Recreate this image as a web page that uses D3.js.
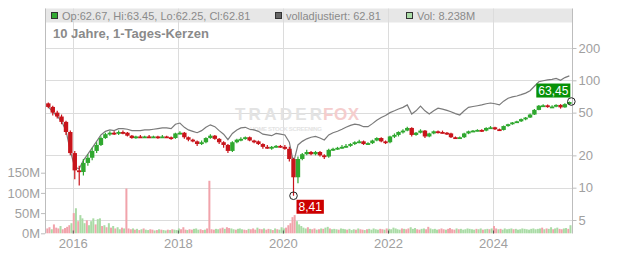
<!DOCTYPE html>
<html>
<head>
<meta charset="utf-8">
<script src="https://cdn.jsdelivr.net/npm/d3@7"></script>
<style>
  body { margin: 0; background: #fff; }
  svg text { font-family: "Liberation Sans", Arial, sans-serif; }
</style>
</head>
<body>
<div id="chart"></div>
<script>
// monthly candles, Jul 2015 .. Jun 2025
var opens = [
  61, 56.5, 50, 46, 41, 33,
  21, 14.5, 14, 17, 19, 22, 25, 29, 31.5, 32.5, 32, 33,
  32.5, 30.5, 29, 30, 29.5, 30, 29.5, 30, 29.5, 30, 29.5, 29,
  32, 32.5, 29.5, 28, 27, 25.5, 26.5, 29, 30.5, 28.5, 26.5, 25,
  22, 26.5, 28, 28.5, 29.5, 27.5, 27, 25.5, 24, 23.5, 24, 24.5,
  24, 23, 18.5, 12.5, 18.5, 20.5, 21.5, 20.5, 21.5, 20, 19.5, 22.5,
  23, 23.5, 24, 24.5, 25.5, 26.5, 27, 25.5, 26, 27.5, 29, 27,
  26.5, 30, 31, 33, 34, 36, 31, 32.5, 34, 30, 32, 33.5,
  33, 32.5, 32, 29.5, 29, 29.5, 32, 33.5, 34, 34.5, 34, 36,
  36.5, 35, 34.5, 37.5, 39, 40.5, 41.5, 43.5, 45, 48, 53, 58,
  58.5, 56.5, 57, 59, 56, 60
];
var highs = [
  62, 58, 52, 48, 42, 34,
  22, 16, 18.5, 20.5, 23.5, 26.5, 30, 32.5, 33.5, 33.5, 34, 34,
  33, 31, 30.5, 31, 30.5, 31, 30.5, 30.5, 31, 30.5, 30, 32.5,
  33.5, 33, 30, 28.5, 27.5, 27.5, 29.5, 31.5, 31, 29, 27, 25.5,
  27, 28.5, 29.5, 30, 30, 28, 27.5, 26, 25, 24.5, 25, 25,
  25, 24, 19, 19.5, 21, 22.5, 22, 22, 22, 20.5, 23, 23.5,
  24, 25, 25.5, 26, 27, 28, 27.5, 26.5, 28, 29.5, 29.5, 27.5,
  30.5, 32, 33.5, 35, 37, 36.5, 33, 35, 34.5, 32.5, 34, 34,
  34, 33, 32.5, 30, 30, 32.5, 34, 34.5, 35, 35, 36.5, 37.5,
  37, 35.5, 38, 39.5, 41, 42, 44, 45.5, 49, 54, 59, 60,
  59.5, 58.5, 60, 60, 61, 63.45
];
var lows = [
  55, 47, 44, 39, 31, 20,
  12, 10.5, 13, 16, 18, 21, 24.5, 28.5, 30.5, 31, 31, 31.5,
  30, 28.5, 28.5, 29, 29, 29, 29, 28.5, 29, 29, 28, 28.5,
  31.5, 28.5, 27, 26.5, 24.5, 25, 26, 28.5, 28, 25.5, 23.5, 21,
  21.5, 26, 27, 28, 27, 26, 25, 23, 23, 22.5, 23.5, 23.5,
  22.5, 17.5, 8.41, 11, 18, 20, 20, 20, 19.5, 18.5, 19, 22,
  22.5, 23, 23.5, 24, 25, 26, 25, 25, 25.5, 27, 26.5, 25.5,
  26, 29, 30, 32, 33.5, 30, 30.5, 32, 29, 29.5, 31.5, 32,
  32, 31, 29, 28.5, 28.5, 29, 31.5, 33, 33.5, 33, 33.5, 35.5,
  34.5, 34, 34, 37, 38.5, 40, 41, 42.5, 44.5, 47.5, 52.5, 56.5,
  55.5, 55.5, 56, 54.5, 55.5, 59.5
];
var closes = [
  56.5, 50, 46, 41, 33, 21,
  14.5, 14, 17, 19, 22, 25, 29, 31.5, 32.5, 32, 33, 32.5,
  30.5, 29, 30, 29.5, 30, 29.5, 30, 29.5, 30, 29.5, 29, 32,
  32.5, 29.5, 28, 27, 25.5, 26.5, 29, 30.5, 28.5, 26.5, 25, 22,
  26.5, 28, 28.5, 29.5, 27.5, 27, 25.5, 24, 23.5, 24, 24.5, 24,
  23, 18.5, 12.5, 18.5, 20.5, 21.5, 20.5, 21.5, 20, 19.5, 22.5, 23,
  23.5, 24, 24.5, 25.5, 26.5, 27, 25.5, 26, 27.5, 29, 27, 26.5,
  30, 31, 33, 34, 36, 31, 32.5, 34, 30, 32, 33.5, 33,
  32.5, 32, 29.5, 29, 29.5, 32, 33.5, 34, 34.5, 34, 36, 36.5,
  35, 34.5, 37.5, 39, 40.5, 41.5, 43.5, 45, 48, 53, 58, 58.5,
  56.5, 57, 59, 56, 60, 62.81
];
// fully adjusted close (gray line), monthly
var adjusted = [
  57, 50.5, 46.5, 41.5, 34, 22,
  15.5, 15, 18, 20.5, 23.5, 27, 31, 33.5, 34.5, 34, 35.5, 35.5,
  35, 34, 34, 34, 34.5, 34.5, 35, 35.5, 36, 36, 35.5, 39,
  40, 36.5, 34.5, 33.5, 32.5, 34, 36.5, 38.5, 37, 34, 31.5, 28,
  32, 34.5, 36, 36.5, 35, 34.5, 33.5, 31.5, 31, 30.5, 32, 31.5,
  31, 26.5, 17, 25, 27, 28.5, 29.5, 30, 29, 27.8, 31, 32.5,
  33.5, 35, 36.5, 38, 39, 38.5, 37, 37, 39.5, 42.5, 45, 47,
  50, 52, 54, 56, 59, 48.5, 52, 57.5, 52, 48.5, 52, 55,
  54, 52.5, 51, 49, 47.5, 52, 56, 57, 58, 59, 60.5, 61.5,
  60.5, 59, 64, 68, 70, 71.5, 73.5, 76, 80, 88, 97, 99,
  101, 102, 104, 100, 106, 110
];
// volume in millions, two values per month
var volumes = [
  12, 15, 10, 22, 14, 12, 18, 10, 13, 16, 20, 25,
  50, 62, 30, 45, 37, 25, 32, 20, 30, 37, 22, 35, 37, 18, 20, 15, 25, 14, 18, 12, 15, 10, 14, 12,
  111, 12, 10, 12, 9, 11, 8, 10, 12, 9, 8, 10, 9, 7, 8, 10, 9, 8, 7, 9, 8, 10, 9, 8,
  12, 10, 15, 9, 8, 10, 9, 11, 12, 9, 10, 8, 9, 12, 130, 10, 9, 11, 10, 12, 14, 11, 15, 13,
  12, 10, 9, 11, 12, 10, 9, 8, 11, 10, 12, 9, 14, 11, 10, 12, 9, 11, 10, 8, 12, 10, 9, 15,
  12, 14, 20, 25, 40, 45, 30, 22, 18, 14, 12, 15, 11, 10, 12, 9, 10, 12, 11, 14, 16, 12, 10, 11,
  10, 9, 12, 11, 10, 9, 11, 8, 10, 9, 12, 10, 9, 8, 10, 11, 9, 12, 10, 9, 11, 10, 9, 12,
  11, 10, 14, 12, 10, 9, 12, 11, 10, 12, 15, 11, 13, 10, 9, 11, 12, 10, 16, 12, 10, 11, 9, 10,
  12, 10, 9, 11, 13, 10, 9, 12, 10, 11, 9, 10, 12, 11, 10, 9, 11, 10, 12, 9, 10, 11, 10, 12,
  18, 12, 10, 11, 9, 12, 10, 11, 12, 10, 11, 9, 10, 12, 11, 10, 9, 11, 12, 10, 11, 12, 14, 10,
  12, 11, 15, 10, 12, 14, 11, 10, 12, 13, 11, 20
];
var volDir =
  "rrgrrrgrrrrg" +
  "rgrgggrgggrggrgrgrgrggrg" +
  "rrrgrgrgrggrrgrgrggrgrgg" +
  "grrrgrrgggrrgrrrrggrrgrr" +
  "ggrgggrrgrrrgrrgrrgrgrgg" +
  "grrrrrgggggrgrrgrgrggrgg" +
  "grgggrgggrgrrgrgggggrrgr" +
  "ggggggrgrrgggrrggrrggggr" +
  "rrgrrrrgrgggggggrggrggrg" +
  "rrgrgggggrggggggggggggrg" +
  "rggrggrrggrg";

var priceTicks = [5, 10, 20, 50, 100, 200];
var volTicks = [0, 50, 100, 150];
var legendItems = [
  { label: "Op:62.67, Hi:63.45, Lo:62.25, Cl:62.81", color: "#33a933", x: 51 },
  { label: "volladjustiert: 62.81", color: "#666666", x: 275 },
  { label: "Vol: 8.238M", color: "#aadca6", x: 406 }
];
var title = "10 Jahre, 1-Tages-Kerzen";

var svgWidth = 632, svgHeight = 253;
var plotLeft = 45, plotRight = 572.5, plotTop = 8.5, plotBottom = 233.5;

var svg = d3.select("#chart").append("svg")
  .attr("width", svgWidth)
  .attr("height", svgHeight);

var months = d3.timeMonth.range(new Date(2015, 6, 1), new Date(2025, 6, 1));

var x = d3.scaleTime()
  .domain([new Date(2015, 5, 22), new Date(2025, 6, 7)])
  .range([plotLeft, plotRight]);
var yPrice = d3.scaleLog().domain([5, 200]).range([220, 48]);
var yVol = d3.scaleLinear().domain([0, 150]).range([233.3, 172.7]);

var candles = months.map(function(m, i) {
  return { date: d3.timeDay.offset(m, 14), o: opens[i], h: highs[i], l: lows[i], c: closes[i], adj: adjusted[i] };
});
var vols = volumes.map(function(v, i) {
  var m = months[Math.floor(i / 2)];
  return { date: d3.timeDay.offset(m, i % 2 ? 22 : 7), v: v, up: (volDir[i] || "g") === "g" };
});

// legend band
svg.append("rect")
  .attr("x", plotLeft).attr("y", plotTop)
  .attr("width", plotRight - plotLeft).attr("height", 14)
  .attr("fill", "#e7e7e7");

// grid
var grid = svg.append("g").attr("stroke", "#dcdcdc").attr("stroke-width", 1);
grid.selectAll("line.h").data(priceTicks).enter().append("line")
  .attr("x1", plotLeft).attr("x2", plotRight)
  .attr("y1", d => Math.round(yPrice(d)) + 0.5)
  .attr("y2", d => Math.round(yPrice(d)) + 0.5);
var yearTicks = [2016, 2018, 2020, 2022, 2024].map(function(y) { return new Date(y, 0, 1); });
grid.selectAll("line.v").data(yearTicks).enter().append("line")
  .attr("x1", d => Math.round(x(d)) + 0.5).attr("x2", d => Math.round(x(d)) + 0.5)
  .attr("y1", plotTop).attr("y2", plotBottom);

// watermark
var wm = svg.append("g").attr("font-weight", "bold");
wm.append("text").attr("x", 235).attr("y", 120)
  .attr("font-size", 17).attr("textLength", 87).attr("lengthAdjust", "spacing")
  .attr("fill", "#e3e3e3").text("TRADER");
wm.append("text").attr("x", 323).attr("y", 120)
  .attr("font-size", 17).attr("textLength", 36).attr("lengthAdjust", "spacing")
  .attr("fill", "#f5cdcd").text("FOX");
wm.append("text").attr("x", 250).attr("y", 131)
  .attr("font-size", 6).attr("textLength", 72).attr("lengthAdjust", "spacing")
  .attr("fill", "#e3e3e3").text("HOME STOCK SCREENING");

// volume bars
svg.append("g").selectAll("rect").data(vols).enter().append("rect")
  .attr("x", d => x(d.date) - 1)
  .attr("width", 2)
  .attr("y", d => yVol(d.v))
  .attr("height", d => yVol(0) - yVol(d.v))
  .attr("fill", d => d.up ? "#a9dba5" : "#f1a3ab");

// axis lines
svg.append("line").attr("x1", plotLeft + 0.5).attr("x2", plotLeft + 0.5).attr("y1", plotTop).attr("y2", plotBottom)
  .attr("stroke", "#bdbdbd");
svg.append("line").attr("x1", plotRight).attr("x2", plotRight).attr("y1", plotTop).attr("y2", plotBottom)
  .attr("stroke", "#bdbdbd");

// adjusted line
var line = d3.line()
  .x(d => x(d.date))
  .y(d => yPrice(d.adj));
svg.append("path")
  .datum(candles)
  .attr("d", line)
  .attr("fill", "none")
  .attr("stroke", "#7a7a7a")
  .attr("stroke-width", 1.2);

// candles
var cg = svg.append("g").selectAll("g").data(candles).enter().append("g")
  .attr("fill", d => d.c >= d.o ? "#2fa82f" : "#c8141b")
  .attr("stroke", d => d.c >= d.o ? "#2fa82f" : "#c8141b");
cg.append("line")
  .attr("x1", d => x(d.date)).attr("x2", d => x(d.date))
  .attr("y1", d => yPrice(d.h)).attr("y2", d => yPrice(d.l))
  .attr("stroke-width", 1.2);
cg.append("rect")
  .attr("x", d => x(d.date) - 2.2)
  .attr("width", 4.4)
  .attr("y", d => yPrice(Math.max(d.o, d.c)))
  .attr("height", d => Math.max(1.8, Math.abs(yPrice(d.o) - yPrice(d.c))))
  .attr("stroke", "none");

// axes
var rightAxis = svg.append("g")
  .attr("transform", `translate(${plotRight},0)`)
  .call(d3.axisRight(yPrice).tickValues(priceTicks).tickFormat(d3.format("d")).tickSize(4).tickPadding(2));
var leftAxis = svg.append("g")
  .attr("transform", `translate(${plotLeft},0)`)
  .call(d3.axisLeft(yVol).tickValues(volTicks).tickFormat(d => d + "M").tickSize(4).tickPadding(1));
var bottomAxis = svg.append("g")
  .attr("transform", `translate(0,${plotBottom - 3})`)
  .call(d3.axisBottom(x).tickValues(yearTicks).tickFormat(d3.timeFormat("%Y")).tickSize(3).tickPadding(5));

[rightAxis, leftAxis, bottomAxis].forEach(function(a) {
  a.select(".domain").remove();
  a.selectAll("text").attr("fill", "#a0a0a0").attr("font-size", 13)
    .attr("font-family", "'Liberation Sans', Arial, sans-serif");
});
rightAxis.selectAll("line").attr("stroke", "#bdbdbd");
leftAxis.selectAll("line").attr("stroke", "#bdbdbd");
bottomAxis.selectAll("line").attr("stroke", "#555");

// high / low markers
var fmt = d => d3.format(".2f")(d).replace(".", ",");
var hiC = candles.reduce((a, b) => b.h > a.h ? b : a);
var loC = candles.reduce((a, b) => b.l < a.l ? b : a);

function marker(px, py, val, color, dx, dy, toLeft) {
  var g = svg.append("g");
  g.append("circle").attr("cx", px).attr("cy", py).attr("r", 3.8)
    .attr("fill", "none").attr("stroke", "#222").attr("stroke-width", 1);
  var box = g.append("rect").attr("fill", color);
  var t = g.append("text").attr("font-size", 12).attr("fill", "#fff").text(fmt(val));
  var w = t.node().getComputedTextLength() + 4;
  var bx = toLeft ? px + dx - w : px + dx;
  var by = py + dy;
  box.attr("x", bx).attr("y", by).attr("width", w).attr("height", 14);
  t.attr("x", bx + 2).attr("y", by + 11.5);
}
marker(x(hiC.date) + 2, yPrice(hiC.h), hiC.h, "#079107", -1, -18, true);
marker(x(loC.date), yPrice(loC.l), loC.l, "#cc0000", 3, 4, false);

// legend
var lg = svg.append("g");
legendItems.forEach(function(d) {
  lg.append("rect").attr("x", d.x + 0.5).attr("y", 12.5).attr("width", 6).attr("height", 6)
    .attr("fill", d.color).attr("stroke", "#333").attr("stroke-width", 1);
  lg.append("text").attr("x", d.x + 11).attr("y", 19.5)
    .attr("font-size", 11).attr("fill", "#8a8a8a").text(d.label);
});

svg.append("text").attr("x", 53).attr("y", 38)
  .attr("font-size", 13).attr("font-weight", "bold").attr("fill", "#8a8a8a")
  .text(title);
</script>
</body>
</html>
